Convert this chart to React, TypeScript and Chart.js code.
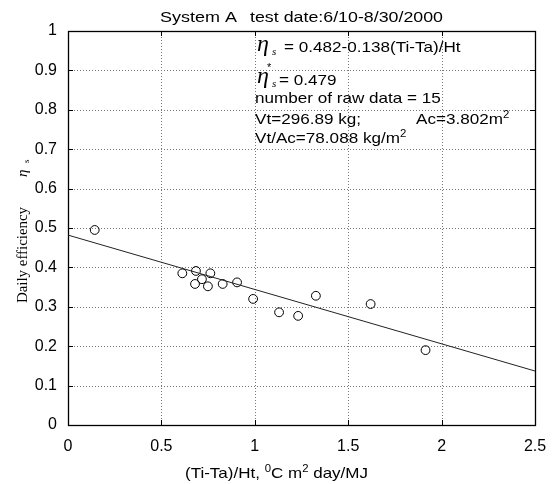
import React, { useEffect, useRef } from 'react';
import { Chart, registerables } from 'chart.js';

Chart.register(...registerables);

const W = 555;
const H = 484;

// measured data (x = (Ti-Ta)/Ht, y = daily efficiency)
const pointX = [0.143, 0.612, 0.685, 0.762, 0.680, 0.717, 0.749, 0.828, 0.905, 0.991, 1.130, 1.232, 1.327, 1.620, 1.914];
const pointY = [0.495, 0.385, 0.391, 0.385, 0.358, 0.370, 0.352, 0.358, 0.362, 0.320, 0.286, 0.277, 0.328, 0.307, 0.190];

// regression line end points
const fitX = [0, 2.5];
const fitY = [0.482, 0.137];

const xTickValues = [0, 0.5, 1, 1.5, 2, 2.5];
const xTickLabels = ['0', '0.5', '1', '1.5', '2', '2.5'];
const yTickValues = [0, 0.1, 0.2, 0.3, 0.4, 0.5, 0.6, 0.7, 0.8, 0.9, 1];
const yTickLabels = ['0', '0.1', '0.2', '0.3', '0.4', '0.5', '0.6', '0.7', '0.8', '0.9', '1'];

const titleLeft = 'System A';
const titleRight = 'test date:6/10-8/30/2000';
const fitEquation = '= 0.482-0.138(Ti-Ta)/Ht';
const meanEff = '= 0.479';
const rawCount = 'number of raw data = 15';
const volText = 'Vt=296.89 kg;';
const areaText = 'Ac=3.802m';
const ratioText = 'Vt/Ac=78.088 kg/m';
const yLabelText = 'Daily efficiency';
const xLabelParts = ['(Ti-Ta)/Ht, ', '0', 'C m', '2', ' day/MJ'];

const SANS = "'Liberation Sans', Arial, Helvetica, sans-serif";
const SERIF = "'Liberation Serif', 'Times New Roman', serif";

type Seg = { t: string; font: string; dy?: number };

function natWidth(ctx: CanvasRenderingContext2D, segs: Seg[]) {
  let w = 0;
  for (const s of segs) {
    ctx.font = s.font;
    w += ctx.measureText(s.t).width;
  }
  return w;
}

function drawAt(ctx: CanvasRenderingContext2D, segs: Seg[], left: number, baseline: number, sx: number) {
  ctx.save();
  ctx.translate(left, baseline);
  ctx.scale(sx, 1);
  let x = 0;
  for (const s of segs) {
    ctx.font = s.font;
    ctx.fillText(s.t, x, s.dy || 0);
    x += ctx.measureText(s.t).width;
  }
  ctx.restore();
}

function drawFit(ctx: CanvasRenderingContext2D, segs: Seg[], left: number, right: number, baseline: number) {
  const nat = natWidth(ctx, segs);
  drawAt(ctx, segs, left, baseline, (right - left) / nat);
}

const framePlugin = {
  id: 'frame',
  beforeDatasetsDraw(chart: any) {
    const ctx: CanvasRenderingContext2D = chart.ctx;
    const { left, right, top, bottom } = chart.chartArea;
    const xs = chart.scales.x;
    const ys = chart.scales.y;
    ctx.save();
    // dotted grid
    ctx.strokeStyle = '#777';
    ctx.lineWidth = 1;
    ctx.setLineDash([1, 2]);
    for (const v of xTickValues) {
      const px = Math.round(xs.getPixelForValue(v)) + 0.5;
      ctx.beginPath();
      ctx.moveTo(px, top);
      ctx.lineTo(px, bottom);
      ctx.stroke();
    }
    for (const v of yTickValues) {
      const py = Math.round(ys.getPixelForValue(v)) + 0.5;
      ctx.beginPath();
      ctx.moveTo(left, py);
      ctx.lineTo(right, py);
      ctx.stroke();
    }
    ctx.setLineDash([]);
    // inward tick marks
    ctx.strokeStyle = '#000';
    const tl = 5;
    for (const v of xTickValues) {
      const px = Math.round(xs.getPixelForValue(v)) + 0.5;
      ctx.beginPath();
      ctx.moveTo(px, bottom);
      ctx.lineTo(px, bottom - tl);
      ctx.moveTo(px, top);
      ctx.lineTo(px, top + tl);
      ctx.stroke();
    }
    for (const v of yTickValues) {
      const py = Math.round(ys.getPixelForValue(v)) + 0.5;
      ctx.beginPath();
      ctx.moveTo(left, py);
      ctx.lineTo(left + tl, py);
      ctx.moveTo(right, py);
      ctx.lineTo(right - tl, py);
      ctx.stroke();
    }
    // frame
    ctx.strokeStyle = '#000';
    ctx.lineWidth = 1.3;
    ctx.strokeRect(Math.round(left) + 0.5, Math.round(top) + 0.5, Math.round(right - left), Math.round(bottom - top));
    ctx.restore();
  },
  afterDraw(chart: any) {
    const ctx: CanvasRenderingContext2D = chart.ctx;
    ctx.save();
    ctx.fillStyle = '#000';
    ctx.textAlign = 'left';
    ctx.textBaseline = 'alphabetic';

    // title
    drawFit(ctx, [{ t: titleLeft, font: `15px ${SANS}` }], 160, 237, 21.5);
    drawFit(ctx, [{ t: titleRight, font: `15px ${SANS}` }], 250, 443, 21.5);

    // x axis label
    const big = `15px ${SANS}`;
    const sup = `10px ${SANS}`;
    drawFit(
      ctx,
      [
        { t: xLabelParts[0], font: big },
        { t: xLabelParts[1], font: sup, dy: -6 },
        { t: xLabelParts[2], font: big },
        { t: xLabelParts[3], font: sup, dy: -6 },
        { t: xLabelParts[4], font: big },
      ],
      185,
      368,
      478
    );

    // y axis label (rotated)
    ctx.save();
    ctx.translate(26.5, 303);
    ctx.rotate(-Math.PI / 2);
    drawFit(ctx, [{ t: yLabelText, font: `15px ${SERIF}` }], 0, 96, 0);
    ctx.font = `italic 15px ${SERIF}`;
    ctx.fillText('\u03b7', 126, 0);
    ctx.font = `9px ${SERIF}`;
    ctx.fillText('s', 140, 2);
    ctx.restore();

    // annotation block
    const sx = 1.14;
    const eta = `italic 24px ${SERIF}`;
    const sub = `italic 11px ${SERIF}`;
    const ann = `15px ${SANS}`;
    const annSup = `10px ${SANS}`;
    ctx.font = eta;
    ctx.fillText('\u03b7', 257, 51);
    ctx.font = sub;
    ctx.fillText('s', 272, 55);
    drawAt(ctx, [{ t: fitEquation, font: ann }], 284, 52, sx);

    ctx.font = `11px ${SANS}`;
    ctx.fillText('*', 267, 71);
    ctx.font = eta;
    ctx.fillText('\u03b7', 257, 83);
    ctx.font = sub;
    ctx.fillText('s', 272, 87);
    drawAt(ctx, [{ t: meanEff, font: ann }], 279, 84.5, sx);

    drawAt(ctx, [{ t: rawCount, font: ann }], 255, 103.3, sx);
    drawAt(ctx, [{ t: volText, font: ann }], 255, 123.5, sx);
    drawAt(ctx, [{ t: areaText, font: ann }, { t: '2', font: annSup, dy: -6 }], 416, 123.5, sx);
    drawAt(ctx, [{ t: ratioText, font: ann }, { t: '2', font: annSup, dy: -6 }], 255, 143.3, sx);

    ctx.restore();
  },
};

export default function App() {
  const ref = useRef<HTMLCanvasElement | null>(null);

  useEffect(() => {
    if (!ref.current) return;
    const chart = new Chart(ref.current, {
      type: 'scatter',
      data: {
        datasets: [
          {
            type: 'line',
            label: 'fit',
            data: fitX.map((x, i) => ({ x, y: fitY[i] })),
            borderColor: '#222',
            borderWidth: 1,
            pointRadius: 0,
            fill: false,
            tension: 0,
          } as any,
          {
            type: 'scatter',
            label: 'data',
            data: pointX.map((x, i) => ({ x, y: pointY[i] })),
            pointStyle: 'circle',
            pointRadius: 4.4,
            pointBorderWidth: 1,
            pointBorderColor: '#000',
            pointBackgroundColor: 'rgba(0,0,0,0)',
            borderColor: '#000',
            backgroundColor: 'rgba(0,0,0,0)',
            showLine: false,
          },
        ],
      },
      options: {
        animation: false,
        responsive: false,
        maintainAspectRatio: false,
        events: [],
        layout: { padding: { top: 31, right: 20, bottom: 0, left: 0 } },
        plugins: {
          legend: { display: false },
          tooltip: { enabled: false },
          title: { display: false },
        },
        scales: {
          x: {
            type: 'linear',
            min: 0,
            max: 2.5,
            afterBuildTicks: (s: any) => {
              s.ticks = xTickValues.map((v) => ({ value: v }));
            },
            afterFit: (s: any) => {
              s.height = 59;
            },
            grid: { display: false },
            border: { display: false },
            ticks: {
              padding: 4,
              color: '#000',
              font: { family: SANS, size: 16 },
              maxRotation: 0,
              autoSkip: false,
              callback: (_v: any, i: number) => xTickLabels[i],
            },
          },
          y: {
            type: 'linear',
            min: 0,
            max: 1,
            afterBuildTicks: (s: any) => {
              s.ticks = yTickValues.map((v) => ({ value: v }));
            },
            afterFit: (s: any) => {
              s.width = 68;
            },
            grid: { display: false },
            border: { display: false },
            ticks: {
              padding: 3,
              color: '#000',
              font: { family: SANS, size: 16 },
              autoSkip: false,
              callback: (_v: any, i: number) => yTickLabels[i],
            },
          },
        },
      },
      plugins: [framePlugin],
    });
    return () => chart.destroy();
  }, []);

  return (
    <div style={{ position: 'absolute', left: 0, top: 0, width: W, height: H, background: '#fff' }}>
      <canvas ref={ref} width={W} height={H} style={{ width: W, height: H, display: 'block' }} />
    </div>
  );
}
